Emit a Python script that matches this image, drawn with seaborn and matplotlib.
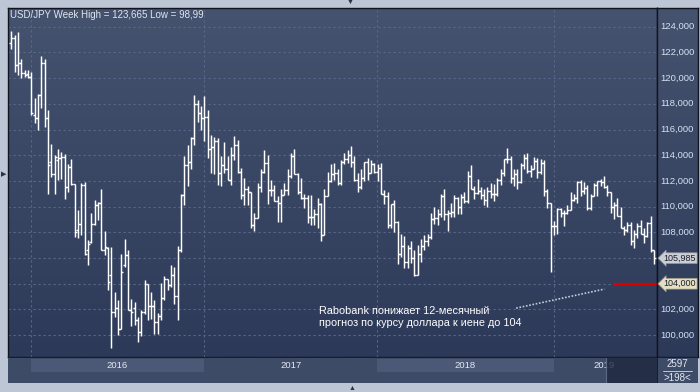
import numpy as np
import pandas as pd
import matplotlib
matplotlib.use("Agg")
import matplotlib.pyplot as plt
from matplotlib.colors import LinearSegmentedColormap
from matplotlib.patches import Rectangle
import seaborn as sns

# weekly USD/JPY bars, week of 23 Nov 2015 .. week of 5 Aug 2019
open_ = [122.75, 123.1, 121.0, 121.15, 120.36, 120.3, 120.1, 117.12, 116.86, 118.67,
         121.14, 116.86, 113.48, 112.57, 113.66, 113.82, 113.87, 111.53, 113.09, 111.74,
         108.21, 108.68, 111.66, 106.6, 107.25, 108.62, 110.1, 110.29, 106.65, 106.8,
         104.65, 101.82, 102.13, 100.49, 105.43, 106.21, 101.97, 102.1, 101.14, 100.23,
         101.79, 103.95, 102.23, 102.23, 101.01, 101.45, 102.91, 104.39, 103.87, 104.65,
         103.05, 106.6, 110.9, 113.2, 113.5, 115.3, 118.0, 117.3, 116.9, 117.0,
         114.5, 114.6, 115.1, 112.6, 113.2, 112.9, 112.1, 114.0, 114.8, 112.7,
         110.9, 111.4, 111.1, 108.6, 109.1, 111.5, 112.7, 113.4, 111.3, 111.3,
         110.4, 110.3, 110.9, 111.3, 112.4, 113.9, 112.5, 111.1, 110.7, 110.7,
         109.2, 109.2, 109.4, 110.2, 107.8, 110.8, 112.0, 112.5, 112.6, 111.8,
         113.5, 113.7, 114.0, 113.5, 112.1, 111.5, 112.2, 113.5, 112.6, 113.3,
         112.7, 113.0, 111.0, 110.8, 108.6, 110.2, 108.8, 106.3, 106.9, 105.7,
         106.8, 106.0, 104.7, 106.3, 106.9, 107.35, 107.65, 109.05, 109.1, 109.4,
         110.8, 109.4, 109.5, 109.55, 110.65, 109.95, 110.75, 110.45, 112.35, 111.4,
         111.05, 111.25, 110.9, 110.5, 111.25, 111.0, 110.95, 112.05, 112.6, 113.7,
         113.7, 112.2, 112.55, 111.9, 113.2, 113.8, 112.8, 112.95, 113.55, 112.7,
         113.4, 111.2, 110.3, 108.5, 108.5, 109.8, 109.5, 109.5, 109.7, 110.5,
         110.7, 111.9, 111.2, 111.45, 109.9, 110.85, 111.7, 112.0, 111.9, 111.5,
         111.1, 109.95, 110.1, 109.3, 108.3, 108.2, 108.55, 107.3, 107.85, 108.5,
         107.9, 107.7, 108.7, 106.6]
high = [123.66, 123.35, 123.56, 121.45, 120.62, 120.62, 120.5, 118.42, 118.8, 121.71,
        121.45, 117.5, 114.86, 114.0, 114.52, 114.26, 114.13, 113.3, 113.74, 111.79,
        109.71, 111.84, 111.92, 107.43, 109.51, 110.5, 110.36, 111.4, 108.1, 106.85,
        106.86, 103.35, 102.7, 106.34, 107.45, 106.65, 102.83, 102.57, 101.4, 101.92,
        104.26, 104.0, 103.35, 102.75, 101.71, 104.08, 104.57, 104.39, 105.48, 105.3,
        106.9, 111.0, 113.9, 114.8, 115.4, 118.7, 118.3, 117.8, 118.6, 117.5,
        115.6, 115.4, 115.3, 113.9, 115.0, 113.9, 114.6, 115.5, 115.2, 113.0,
        112.2, 111.6, 111.1, 109.5, 111.8, 112.9, 114.4, 114.0, 112.1, 111.7,
        110.8, 111.4, 111.8, 112.9, 114.2, 114.5, 112.6, 112.2, 111.0, 110.9,
        110.9, 109.8, 110.7, 110.3, 111.4, 112.7, 113.3, 113.4, 112.9, 113.6,
        114.2, 114.4, 114.7, 113.9, 112.6, 112.9, 113.5, 113.75, 113.6, 113.4,
        113.3, 113.4, 111.3, 111.1, 110.2, 110.5, 108.9, 107.9, 107.7, 107.05,
        107.3, 106.6, 107.0, 107.5, 107.8, 107.9, 109.5, 110.0, 109.8, 111.0,
        111.4, 109.7, 110.3, 110.9, 110.75, 111.0, 111.1, 112.8, 113.2, 111.6,
        112.15, 111.5, 111.4, 111.5, 111.8, 111.75, 112.2, 112.9, 113.7, 114.55,
        113.9, 112.9, 112.9, 113.4, 114.1, 114.2, 113.2, 113.85, 113.8, 113.7,
        113.6, 111.4, 110.3, 108.9, 109.9, 109.9, 109.7, 110.15, 111.1, 111.0,
        112.0, 112.1, 111.9, 111.7, 110.95, 111.8, 112.0, 112.15, 112.4, 111.7,
        111.1, 110.35, 110.7, 110.0, 108.5, 108.8, 108.8, 108.2, 108.7, 108.95,
        108.3, 108.8, 109.3, 106.6]
low = [122.23, 120.5, 120.23, 119.97, 120.05, 119.97, 117.12, 116.47, 115.95, 117.64,
       116.2, 110.96, 112.3, 111.0, 112.1, 112.18, 110.62, 111.14, 111.66, 107.64,
       107.58, 107.77, 106.21, 105.48, 107.17, 108.55, 108.99, 106.6, 106.21, 103.53,
       98.99, 101.4, 99.97, 100.49, 105.3, 101.92, 100.68, 100.75, 99.45, 99.9,
       101.66, 101.14, 101.27, 100.05, 100.05, 101.19, 102.7, 103.48, 103.74, 102.44,
       101.2, 106.5, 110.1, 111.6, 112.9, 114.8, 116.6, 116.0, 115.1, 113.8,
       112.6, 112.5, 111.7, 111.6, 112.6, 112.1, 111.7, 113.6, 112.6, 110.6,
       110.1, 110.1, 108.3, 108.1, 109.1, 111.1, 112.6, 110.2, 110.8, 110.4,
       108.8, 108.8, 110.9, 110.9, 112.2, 112.5, 111.0, 110.6, 109.9, 108.7,
       108.6, 108.6, 108.3, 107.3, 107.8, 110.8, 111.9, 112.1, 111.7, 111.7,
       113.3, 113.4, 113.1, 112.0, 111.1, 111.4, 112.0, 112.1, 112.6, 112.6,
       112.0, 111.0, 110.2, 108.3, 108.3, 108.0, 105.55, 106.1, 105.25, 105.25,
       105.6, 104.6, 104.7, 105.7, 106.6, 106.9, 107.5, 108.65, 108.6, 109.2,
       108.95, 108.1, 109.2, 109.2, 109.4, 109.4, 110.3, 110.3, 111.4, 110.6,
       111.0, 110.6, 110.1, 110.0, 110.7, 110.4, 110.8, 111.7, 112.4, 113.4,
       111.8, 111.6, 111.4, 111.8, 112.9, 112.6, 112.3, 112.9, 112.2, 112.5,
       110.8, 109.9, 104.9, 107.8, 107.9, 109.2, 108.5, 109.4, 109.7, 110.4,
       110.3, 110.8, 110.95, 109.75, 109.7, 110.85, 110.85, 111.6, 111.45, 110.85,
       109.5, 109.05, 109.3, 108.3, 107.8, 108.0, 107.05, 106.8, 107.55, 107.9,
       107.2, 107.6, 106.5, 105.5]
close = [123.1, 121.0, 121.15, 120.36, 120.23, 120.1, 117.25, 116.86, 118.67, 121.14,
         116.86, 113.22, 112.57, 113.87, 113.82, 113.87, 111.53, 113.09, 111.74, 108.03,
         108.68, 111.66, 106.34, 107.06, 108.62, 110.1, 110.29, 106.65, 106.86, 104.13,
         101.82, 102.13, 100.49, 104.91, 106.21, 101.92, 101.79, 101.14, 100.23, 101.79,
         103.95, 102.23, 102.23, 101.01, 101.45, 102.91, 104.39, 103.87, 104.65, 103.05,
         106.6, 110.9, 113.2, 113.5, 115.3, 118.0, 117.3, 116.9, 117.0, 114.5,
         114.6, 115.1, 112.6, 113.2, 112.9, 112.1, 114.0, 114.8, 112.7, 110.9,
         111.4, 111.1, 108.6, 109.1, 111.5, 112.7, 113.4, 111.3, 111.3, 110.4,
         110.3, 110.9, 111.3, 112.4, 113.9, 112.5, 111.1, 110.7, 110.7, 109.2,
         109.2, 109.4, 110.2, 107.8, 110.8, 112.0, 112.5, 112.6, 111.8, 113.5,
         113.7, 114.0, 113.5, 112.1, 111.5, 112.2, 113.5, 112.6, 113.3, 112.7,
         113.0, 111.0, 110.8, 108.6, 110.2, 108.8, 106.3, 106.9, 105.7, 106.8,
         106.0, 104.7, 106.3, 106.9, 107.35, 107.65, 109.05, 109.1, 109.4, 110.8,
         109.4, 109.5, 109.55, 110.65, 109.95, 110.75, 110.45, 112.35, 111.4, 111.05,
         111.25, 110.9, 110.5, 111.25, 111.0, 110.95, 112.05, 112.6, 113.7, 113.7,
         112.2, 112.55, 111.9, 113.2, 113.8, 112.8, 112.95, 113.55, 112.7, 113.4,
         111.2, 110.3, 108.5, 108.5, 109.8, 109.5, 109.5, 109.7, 110.5, 110.7,
         111.9, 111.2, 111.45, 109.9, 110.85, 111.7, 112.0, 111.9, 111.5, 111.1,
         109.95, 110.1, 109.3, 108.3, 108.2, 108.55, 107.3, 107.85, 108.5, 107.9,
         107.7, 108.7, 106.6, 105.985]

y_ticks = [100, 102, 104, 106, 108, 110, 112, 114, 116, 118, 120, 122, 124]
title = "USD/JPY Week High = 123,665 Low = 98,99"
note_lines = ["Rabobank понижает 12-месячный",
              "прогноз по курсу доллара к иене до 104"]
last_price = 105.985
target = 104.0
bar_count = "2597"
visible = ">198<"

df = pd.DataFrame({"open": open_, "high": high, "low": low, "close": close})
df["week"] = pd.date_range("2015-11-23", periods=len(df), freq="W-MON")
df["i"] = np.arange(len(df))
year_start = df.groupby(df["week"].dt.year)["i"].min()

sns.set_theme(style="dark")
plt.rcParams["font.family"] = ["Liberation Sans", "DejaVu Sans"]

W, H = 700, 392
fig = plt.figure(figsize=(7, 3.92), dpi=100)
fig.patch.set_facecolor("#bcc6d5")


def box(x0, y0, x1, y1):
    return fig.add_axes([x0 / W, 1 - y1 / H, (x1 - x0) / W, (y1 - y0) / H])


XLIM = (-0.99, 193.9)
YLIM = (98.32, 125.455)
grad = LinearSegmentedColormap.from_list("bg", ["#46536f", "#2c3958"])

ax = box(8, 8, 657, 356.7)
axr = box(657, 8, 698, 356.7)
axb = box(8, 356.7, 657, 383)
axc = box(657, 356.7, 698, 383)

for a in (ax, axr):
    a.imshow(np.linspace(0, 1, 256).reshape(-1, 1), cmap=grad, aspect="auto",
             extent=(*XLIM, *YLIM), zorder=0)
    a.set_xlim(XLIM)
    a.set_ylim(YLIM)
    a.set_xticks([])
    a.set_yticks([])
    a.grid(False)
    for s in a.spines.values():
        s.set_color("#10141f")
        s.set_linewidth(1.0)

# grid
for y in y_ticks:
    ax.axhline(y, color="#58678a", lw=0.8, ls=(0, (2, 2.5)), zorder=1)
for i in year_start.iloc[1:]:
    ax.axvline(i - 0.1, color="#58678a", lw=0.8, ls=(0, (2, 2.5)), zorder=1)

# OHLC bars
ax.vlines(df["i"], df["low"], df["high"], color="white", lw=1.05, zorder=3)
ax.hlines(df["open"], df["i"] - 0.6, df["i"], color="white", lw=1.0, zorder=3)
ax.hlines(df["close"], df["i"], df["i"] + 0.6, color="white", lw=1.0, zorder=3)

ax.text(-0.4, 124.91, title, color="#dfe6f0", fontsize=7, va="center", ha="left")

# forecast line and note
ax.hlines(target, 180.7, XLIM[1], color="#dd0000", lw=1.6, zorder=4)
ax.plot([151.6, 178.1], [102.1, 103.58], color="#c4ccd8", lw=1.2,
        ls=(0, (1, 1)), zorder=4)
ax.text(92.3, 101.91, note_lines[0], color="white", fontsize=7.8, va="center")
ax.text(92.3, 100.98, note_lines[1], color="white", fontsize=7.8, va="center")

# right price axis (labels near the marked prices are covered by their boxes)
ytr = axr.get_yaxis_transform()
for y in y_ticks:
    if abs(y - last_price) < 1.2 or abs(y - target) < 0.5:
        continue
    axr.text(0.09, y, f"{y},000", transform=ytr,
             color="#d6e2f2", fontsize=6.8, va="center", ha="left")
for price, face, edge in [(last_price, "#cbced4", "#8d939c"),
                          (target, "#e4dec2", "#9c9680")]:
    axr.text(0.955, price, f"{price:.3f}".replace(".", ","), transform=ytr,
             color="#1b2030", fontsize=6.5, va="center", ha="right",
             bbox=dict(boxstyle="larrow,pad=0.1", fc=face, ec=edge, lw=0.5))

# year strip
axb.set_facecolor("#3e4b66")
axb.set_xlim(XLIM)
axb.set_ylim(0, 1)
axb.set_xticks([])
axb.set_yticks([])
axb.grid(False)
for s in axb.spines.values():
    s.set_visible(False)
axb.axhline(1, color="#10141f", lw=1.2)
ys = list(year_start.items())
for n, (yr, i0) in enumerate(ys):
    i1 = ys[n + 1][1] if n + 1 < len(ys) else None
    if yr == 2015:
        continue
    if i1 is not None and yr % 2 == 0:
        axb.add_patch(Rectangle((i0 - 0.1, 0.43), i1 - i0, 0.48, fc="#4b5976",
                                ec="none", zorder=1))
    xc = (i0 + i1) / 2 - 0.1 if i1 is not None else 178.1
    axb.text(xc, 0.66, str(yr), color="#e4eaf4", fontsize=6.8, ha="center",
             va="center", zorder=2)
axb.add_patch(Rectangle((178.6, 0), XLIM[1] - 178.6, 0.94, fc="#1e2940",
                        ec="none", alpha=0.8, zorder=3))
axb.axvline(178.6, ymax=0.94, color="#5d6a84", lw=0.8, zorder=4)

# corner counter
axc.set_facecolor("#3e4b66")
axc.set_xticks([])
axc.set_yticks([])
axc.grid(False)
for s in axc.spines.values():
    s.set_visible(False)
axc.axhline(1, color="#10141f", lw=1.2)
axc.axvline(0, color="#10141f", lw=1.2)
axc.text(0.5, 0.71, bar_count, color="#e2e8f2", fontsize=7, ha="center", va="center")
axc.plot([0.15, 0.85], [0.46, 0.46], color="#c0c8d8", lw=0.7)
axc.text(0.5, 0.2, visible, color="#e2e8f2", fontsize=7, ha="center", va="center")
axc.set_xlim(0, 1)
axc.set_ylim(0, 1)

# window arrows
fig.text(350 / W, 1 - 2.5 / H, "▼", color="#2a3142", fontsize=5, ha="center", va="center")
fig.text(352 / W, 1 - 389 / H, "▲", color="#2a3142", fontsize=5, ha="center", va="center")
fig.text(3.5 / W, 1 - 175 / H, "▶", color="#2a3142", fontsize=5, ha="center", va="center")

fig.savefig("out.png", dpi=100, facecolor=fig.get_facecolor())
